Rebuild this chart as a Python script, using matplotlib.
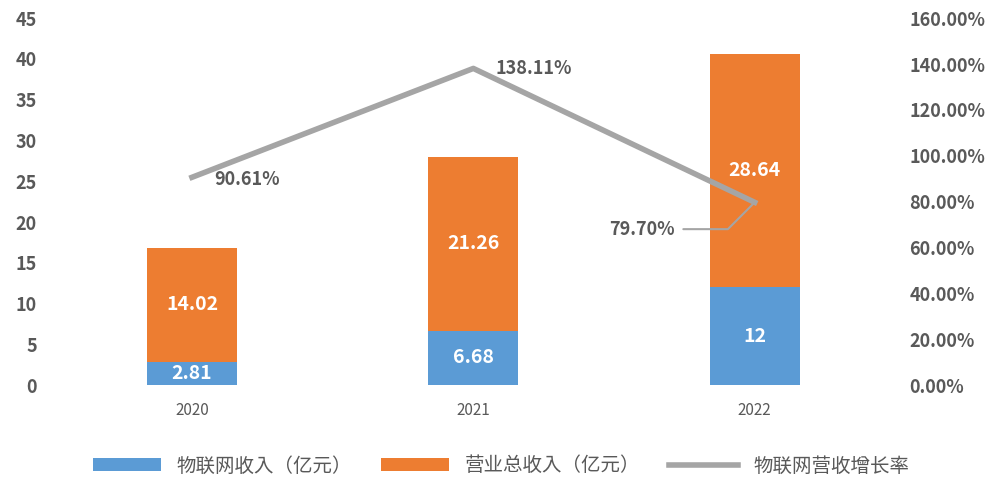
import matplotlib
matplotlib.use("Agg")
import matplotlib.pyplot as plt
from matplotlib import font_manager as fm

cjk = [f.name for f in fm.fontManager.ttflist if "CJK" in f.name]
pref = [n for n in ["Noto Sans CJK SC", "Noto Sans CJK JP"] if n in cjk] or cjk
plt.rcParams["font.family"] = "sans-serif"
plt.rcParams["font.sans-serif"] = pref[:1] + ["DejaVu Sans"]

years = ["2020", "2021", "2022"]
iot_rev = [2.81, 6.68, 12]
total_rev = [14.02, 21.26, 28.64]
growth = [90.61, 138.11, 79.70]
left_ticks = [0, 5, 10, 15, 20, 25, 30, 35, 40, 45]
right_ticks = [0, 20, 40, 60, 80, 100, 120, 140, 160]

blue = "#5B9BD5"
orange = "#ED7D31"
gray = "#A5A5A5"
tc = "#595959"

fig = plt.figure(figsize=(10.02, 4.93), dpi=100)
ax = fig.add_axes([0.045, 0.219, 0.843, 0.744])
x = list(range(len(years)))
w = 0.32
b1 = ax.bar(x, iot_rev, w, color=blue, label="物联网收入（亿元）")
b2 = ax.bar(x, total_rev, w, bottom=iot_rev, color=orange, label="营业总收入（亿元）")
for i in x:
    ax.text(i, iot_rev[i] / 2, f"{iot_rev[i]:g}", ha="center", va="center",
            color="white", fontsize=14, fontweight="bold")
    ax.text(i, iot_rev[i] + total_rev[i] / 2, f"{total_rev[i]:.2f}", ha="center",
            va="center", color="white", fontsize=14, fontweight="bold")
ax.set_xlim(-0.522, 2.48)
ax.set_ylim(0, 45)
ax.set_yticks(left_ticks)
ax.set_xticks(x)
ax.set_xticklabels(years)
for s in ax.spines.values():
    s.set_visible(False)
ax.tick_params(length=0, colors=tc)
ax.tick_params(axis="y", labelsize=13, pad=6)
ax.tick_params(axis="x", labelsize=11, pad=12)
for t in ax.get_yticklabels():
    t.set_fontweight("bold")

ax2 = ax.twinx()
ln, = ax2.plot(x, growth, color=gray, lw=4, label="物联网营收增长率")
ax2.set_ylim(0, 160)
ax2.set_yticks(right_ticks)
ax2.set_yticklabels([f"{v:.2f}%" for v in right_ticks])
for s in ax2.spines.values():
    s.set_visible(False)
ax2.tick_params(length=0, colors=tc, labelsize=13, pad=14)
for t in ax2.get_yticklabels():
    t.set_fontweight("bold")

ax2.annotate("90.61%", (0, growth[0]), xytext=(0.08, growth[0] - 1), ha="left",
             va="center", color=tc, fontsize=13, fontweight="bold")
ax2.annotate("138.11%", (1, growth[1]), xytext=(1.08, growth[1]), ha="left",
             va="center", color=tc, fontsize=13, fontweight="bold")
ax2.annotate("79.70%", (2, growth[2]), xytext=(1.6, 68), ha="center",
             va="center", color=tc, fontsize=13, fontweight="bold",
             arrowprops=dict(arrowstyle="-", color=gray, lw=1.5,
                             connectionstyle="angle,angleA=0,angleB=45",
                             relpos=(1, 0.5), shrinkA=4, shrinkB=0))

fig.legend([b1, b2, ln], [b1.get_label(), b2.get_label(), ln.get_label()],
           loc="center", bbox_to_anchor=(0.5, 0.055), ncol=3, frameon=False,
           fontsize=14, labelcolor=tc, handlelength=3.5, columnspacing=1.5)
fig.savefig("out.png", dpi=100)
